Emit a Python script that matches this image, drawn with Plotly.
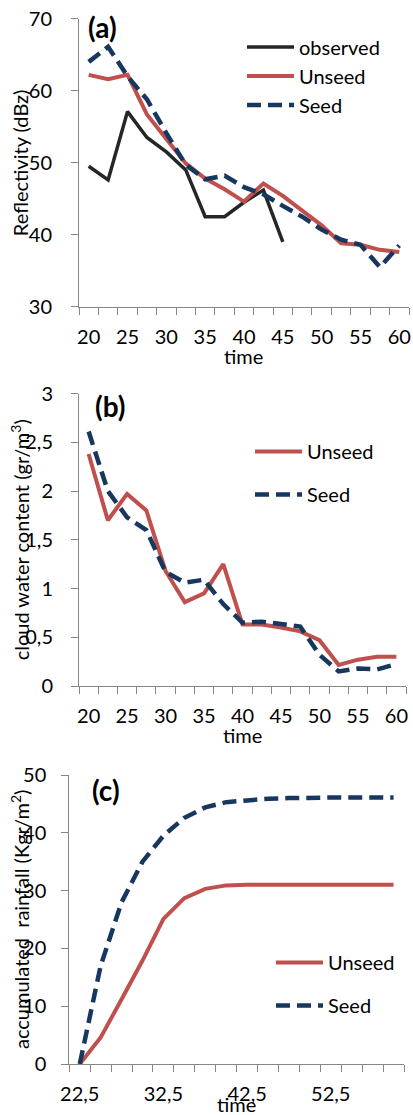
import plotly.graph_objects as go

# ---------------- data ----------------
time_ab = [20, 22.5, 25, 27.5, 30, 32.5, 35, 37.5, 40, 42.5, 45, 47.5, 50, 52.5, 55, 57.5, 60]
observed_a = [49.5, 47.6, 57.1, 53.5, 51.5, 49.0, 42.5, 42.5, 44.5, 46.2, 39.0]
unseed_a = [62.2, 61.6, 62.2, 56.7, 53.3, 49.9, 47.8, 46.3, 44.6, 47.1, 45.4, 43.3, 41.3, 38.8, 38.6, 37.9, 37.6]
seed_a = [64.0, 66.1, 62.0, 58.8, 54.1, 49.7, 47.7, 48.2, 46.6, 45.6, 44.0, 42.5, 40.7, 39.3, 38.6, 35.5, 38.5]

unseed_b = [2.38, 1.70, 1.97, 1.80, 1.18, 0.86, 0.95, 1.25, 0.63, 0.63, 0.60, 0.56, 0.47, 0.215, 0.27, 0.30, 0.30]
seed_b = [2.61, 2.00, 1.73, 1.60, 1.17, 1.06, 1.09, 0.84, 0.65, 0.66, 0.635, 0.61, 0.32, 0.15, 0.18, 0.17, 0.225]

time_c = [22.5, 25, 27.5, 30, 32.5, 35, 37.5, 40, 42.5, 45, 47.5, 50, 52.5, 55, 57.5, 60]
unseed_c = [0, 4.6, 11.2, 17.9, 25.1, 28.7, 30.3, 30.9, 31.0, 31.0, 31.0, 31.0, 31.0, 31.0, 31.0, 31.0]
seed_c = [0, 17.0, 28.0, 35.0, 39.5, 42.6, 44.4, 45.3, 45.6, 45.9, 46.0, 46.1, 46.1, 46.1, 46.1, 46.1]

xtick_vals_ab = [20, 25, 30, 35, 40, 45, 50, 55, 60]
xtick_text_ab = ["20", "25", "30", "35", "40", "45", "50", "55", "60"]
xtick_vals_c = [22.5, 32.5, 42.5, 52.5]
xtick_text_c = ["22,5", "32,5", "42,5", "52,5"]
ytick_vals_a = [30, 40, 50, 60, 70]
ytick_vals_b = [0, 0.5, 1, 1.5, 2, 2.5, 3]
ytick_text_b = ["0", "0,5", "1", "1,5", "2", "2,5", "3"]
ytick_vals_c = [0, 10, 20, 30, 40, 50]

x_title = "time"
y_title_a = "Reflectivity (dBz)"
y_title_b = "cloud water content (gr/m<sup>3</sup>)"
y_title_c = "accumulated  rainfall (Kgr/m<sup>2</sup>)"

# ---------------- style ----------------
FONT = "Lato"
FS = 20
BLACK = "#262626"
RED = "#C0504D"
BLUE = "#17375E"
AX = "#868686"
W, H = 413, 1115

STEP = 2.5
bounds_ab = [t - STEP / 2 for t in time_ab] + [time_ab[-1] + STEP / 2]
bounds_c = [t - STEP / 2 for t in time_c] + [time_c[-1] + STEP / 2]

fig = go.Figure()

def add(x, y, name, color, width, dash, xa, ya, leg, group=None):
    fig.add_trace(go.Scatter(
        x=x, y=y, mode="lines", name=name,
        line=dict(color=color, width=width, dash=dash),
        xaxis=xa, yaxis=ya, legend=leg, showlegend=True,
        legendgroup=group, hoverinfo="skip"))

DASH = "14px,7px"
add(time_ab[:len(observed_a)], observed_a, "observed", BLACK, 3.5, "solid", "x", "y", "legend", "a1")
add(time_ab, unseed_a, "Unseed", RED, 4, "solid", "x", "y", "legend", "a2")
add(time_ab, seed_a, "Seed", BLUE, 4.5, DASH, "x", "y", "legend", "a3")

add(time_ab, unseed_b, "Unseed", RED, 4, "solid", "x2", "y2", "legend2", "b1")
add(time_ab, seed_b, "Seed", BLUE, 4.5, DASH, "x2", "y2", "legend2", "b2")

add(time_c, unseed_c, "Unseed", RED, 4, "solid", "x3", "y3", "legend3", "c1")
add(time_c, seed_c, "Seed", BLUE, 4.5, DASH, "x3", "y3", "legend3", "c2")

tickfont = dict(family=FONT, size=FS, color="#000000")

def xaxis(dom, rng, anchor, tv, tt, bounds):
    return dict(domain=dom, anchor=anchor, range=rng, showline=True, linecolor=AX,
                linewidth=1, showgrid=False, zeroline=False, ticks="",
                tickmode="array", tickvals=tv, ticktext=tt, tickfont=tickfont,
                ticklabelstandoff=12, automargin=False,
                minor=dict(ticks="outside", tickmode="array", tickvals=bounds,
                           ticklen=7, tickcolor=AX, tickwidth=1))

def yaxis(dom, rng, anchor, tv, tt, standoff):
    return dict(domain=dom, anchor=anchor, range=rng, showline=True, linecolor=AX,
                linewidth=1, showgrid=False, zeroline=False, ticks="outside",
                ticklen=7, tickcolor=AX, tickwidth=1,
                tickmode="array", tickvals=tv, ticktext=tt, tickfont=tickfont,
                ticklabelstandoff=standoff, automargin=False)

def py(px):
    return 1 - px / H

def legend(xpx, ypx, gap):
    return dict(x=xpx / W, y=py(ypx), xanchor="left", yanchor="top", bgcolor="rgba(0,0,0,0)",
                font=dict(family=FONT, size=FS, color="#000000"), itemwidth=47,
                tracegroupgap=gap)

def label(txt, xpx, ypx, size=28, angle=0):
    return dict(text=txt, x=xpx / W, y=py(ypx), xref="paper", yref="paper",
                xanchor="center", yanchor="middle", showarrow=False, textangle=angle,
                font=dict(family=FONT, size=size, color="#000000"))

fig.update_layout(
    width=W, height=H, margin=dict(l=0, r=0, t=0, b=0, autoexpand=False),
    paper_bgcolor="white", plot_bgcolor="white",
    font=dict(family=FONT, size=FS, color="#000000"),
    xaxis=xaxis([79 / W, 409 / W], [18.75, 61.25], "y", xtick_vals_ab, xtick_text_ab, bounds_ab),
    yaxis=yaxis([py(306.7), py(18.7)], [30, 70], "x", ytick_vals_a,
                [str(v) for v in ytick_vals_a], 15),
    xaxis2=xaxis([79 / W, 406 / W], [18.75, 61.25], "y2", xtick_vals_ab, xtick_text_ab, bounds_ab),
    yaxis2=yaxis([py(686), py(393.5)], [0, 3], "x2", ytick_vals_b, ytick_text_b, 14),
    xaxis3=xaxis([69.3 / W, 404 / W], [21.25, 61.25], "y3", xtick_vals_c, xtick_text_c, bounds_c),
    yaxis3=yaxis([py(1064), py(775)], [0, 50], "x3", ytick_vals_c,
                 [str(v) for v in ytick_vals_c], 11),
    legend=legend(242, 27.5, 0),
    legend2=legend(250, 432, 14),
    legend3=legend(271, 943, 14),
    showlegend=True,
    annotations=[
        label("<b>(a)</b>", 102, 27),
        label("<b>(b)</b>", 110, 406.5),
        label("<b>(c)</b>", 105.5, 790),
        label(x_title, 244, 356, FS),
        label(x_title, 242.5, 735, FS),
        label(x_title, 236.6, 1104, FS),
        label(y_title_a, 19.5, 162.7, FS, -90),
        label(y_title_b, 19.5, 539.8, FS, -90),
        label(y_title_c, 19.5, 919.5, FS, -90),
    ],
)

fig.write_html("out.html")
